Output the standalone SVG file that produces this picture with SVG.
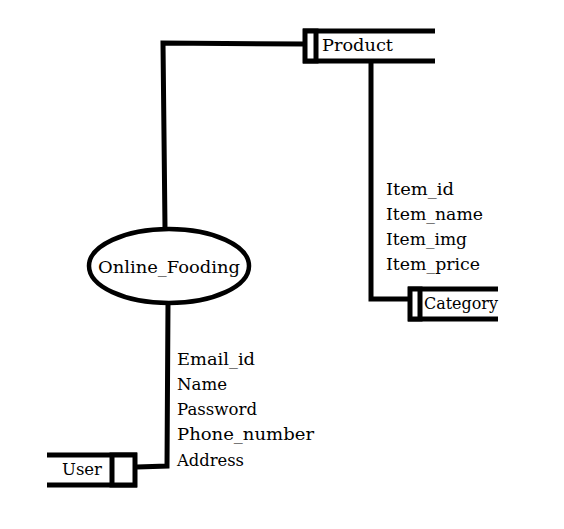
<svg xmlns="http://www.w3.org/2000/svg" width="564" height="529" viewBox="0 0 564 529">
<style>
.ln{stroke:#000;stroke-width:5;fill:none;stroke-linecap:butt}
.bx{stroke:#000;stroke-width:5;fill:#fff}
.t{font-family:"DejaVu Serif","Liberation Serif",serif;font-size:17px;fill:#000}
</style>
<rect width="564" height="529" fill="#fff"/>
<g id="connectors">
<polyline class="ln" points="165,228 163,43 305,44"/>
<polyline class="ln" points="371,61 371,299 410,299"/>
<polyline class="ln" points="168,303 167,466 137,467"/>
</g>
<g id="product">
<line class="ln" x1="303" y1="31" x2="435" y2="31"/>
<line class="ln" x1="303" y1="61" x2="435" y2="61"/>
<rect class="bx" x="305" y="31" width="11" height="30"/>
<text class="t" x="322" y="51" textLength="71" lengthAdjust="spacingAndGlyphs">Product</text>
</g>
<g id="category">
<line class="ln" x1="408" y1="289" x2="498" y2="289"/>
<line class="ln" x1="408" y1="319" x2="498" y2="319"/>
<rect class="bx" x="410" y="289" width="10" height="30"/>
<text class="t" x="424" y="309" textLength="74" lengthAdjust="spacingAndGlyphs">Category</text>
</g>
<g id="online_fooding">
<ellipse cx="169" cy="266" rx="80" ry="37" stroke="#000" stroke-width="4.5" fill="#fff"/>
<text class="t" x="98" y="273" textLength="142" lengthAdjust="spacingAndGlyphs">Online_Fooding</text>
</g>
<g id="user">
<line class="ln" x1="47" y1="455" x2="137" y2="455"/>
<line class="ln" x1="47" y1="485" x2="137" y2="485"/>
<rect class="bx" x="112" y="455" width="23" height="30"/>
<text class="t" x="62" y="475" textLength="40" lengthAdjust="spacingAndGlyphs">User</text>
</g>
<g id="product_attrs">
<text class="t" x="386" y="195" textLength="68" lengthAdjust="spacingAndGlyphs">Item_id</text>
<text class="t" x="386" y="220" textLength="97" lengthAdjust="spacingAndGlyphs">Item_name</text>
<text class="t" x="386" y="245" textLength="81" lengthAdjust="spacingAndGlyphs">Item_img</text>
<text class="t" x="386" y="270" textLength="94" lengthAdjust="spacingAndGlyphs">Item_price</text>
</g>
<g id="user_attrs">
<text class="t" x="177" y="365" textLength="78" lengthAdjust="spacingAndGlyphs">Email_id</text>
<text class="t" x="177" y="390" textLength="50" lengthAdjust="spacingAndGlyphs">Name</text>
<text class="t" x="177" y="415" textLength="80" lengthAdjust="spacingAndGlyphs">Password</text>
<text class="t" x="177" y="440" textLength="137" lengthAdjust="spacingAndGlyphs">Phone_number</text>
<text class="t" x="177" y="466" textLength="67" lengthAdjust="spacingAndGlyphs">Address</text>
</g>
</svg>
